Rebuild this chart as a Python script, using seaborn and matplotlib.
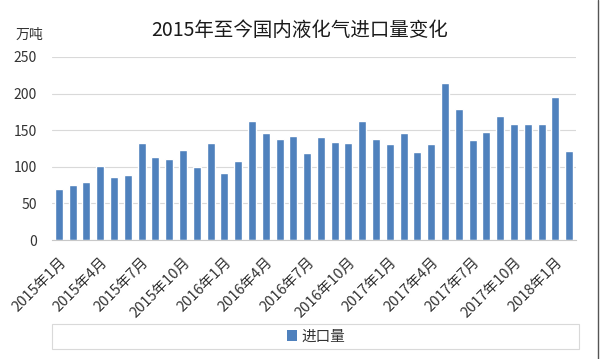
import matplotlib
matplotlib.use("Agg")
import matplotlib.pyplot as plt
from matplotlib.patches import Rectangle
from matplotlib.lines import Line2D
from matplotlib.transforms import ScaledTranslation
import seaborn as sns
import pandas as pd
import numpy as np

months = [
    "2015年1月", "2015年2月", "2015年3月", "2015年4月", "2015年5月", "2015年6月",
    "2015年7月", "2015年8月", "2015年9月", "2015年10月", "2015年11月", "2015年12月",
    "2016年1月", "2016年2月", "2016年3月", "2016年4月", "2016年5月", "2016年6月",
    "2016年7月", "2016年8月", "2016年9月", "2016年10月", "2016年11月", "2016年12月",
    "2017年1月", "2017年2月", "2017年3月", "2017年4月", "2017年5月", "2017年6月",
    "2017年7月", "2017年8月", "2017年9月", "2017年10月", "2017年11月", "2017年12月",
    "2018年1月", "2018年2月",
]
imports = [
    69, 74.5, 79, 101, 85.5, 89, 133, 113, 110.5, 123, 99.5, 132,
    92, 108, 163, 145.5, 138, 142, 119.5, 140.5, 134.5, 132.5, 162, 138,
    130.5, 145.5, 120.5, 130.5, 215, 179, 137, 147, 170, 159, 158, 159,
    196, 121.5,
]
series_name = "进口量"
title = "2015年至今国内液化气进口量变化"
unit = "万吨"
yticks = [0, 50, 100, 150, 200, 250]

sns.set_theme(style="white")
plt.rcParams["font.family"] = ["Noto Sans CJK SC", "DejaVu Sans"]

bar_color = "#4f81bd"
text_color = "#333333"

df = pd.DataFrame({"month": months, "value": imports})

fig = plt.figure(figsize=(6.0, 3.59), dpi=100)
ax = fig.add_axes([52 / 600, 1 - 240 / 359, 524 / 600, 183 / 359])

sns.barplot(data=df, x="month", y="value", color=bar_color, width=0.58,
            saturation=1, ax=ax, order=months)

ax.set_xlim(-0.5, len(months) - 0.5)
ax.set_ylim(0, 250)
ax.set_yticks(yticks)
ax.set_yticklabels([str(v) for v in yticks], fontsize=10, color=text_color)
ax.yaxis.grid(True, color="#d9d9d9", linewidth=0.8)
ax.set_axisbelow(True)
ax.tick_params(axis="y", length=0, pad=11)

ax.set_xticks(range(0, len(months), 3))
ax.set_xticklabels(months[::3], rotation=45, ha="right", rotation_mode="anchor",
                   fontsize=10.5, color=text_color)
shift = ScaledTranslation(4 / 100, 0, fig.dpi_scale_trans)
for lab in ax.get_xticklabels():
    lab.set_transform(lab.get_transform() + shift)
ax.set_xticks(np.arange(-0.5, len(months), 3), minor=True)
ax.tick_params(axis="x", which="major", length=0, pad=11)
ax.tick_params(axis="x", which="minor", length=4, color="#c8c8c8", width=0.8)

for s in ["top", "right", "left"]:
    ax.spines[s].set_visible(False)
ax.spines["bottom"].set_color("#c8c8c8")
ax.spines["bottom"].set_linewidth(0.8)
ax.set_xlabel("")
ax.set_ylabel("")

fig.text(0.5, 1 - 30 / 359, title, ha="center", va="center", fontsize=14, color="#1a1a1a")
fig.text(16 / 600, 1 - 35 / 359, unit, ha="left", va="center", fontsize=10, color=text_color)

# legend box
fig.patches.append(Rectangle((52 / 600, 1 - 349 / 359), 527 / 600, 25 / 359,
                             transform=fig.transFigure, facecolor="white",
                             edgecolor="#d9d9d9", linewidth=0.8))
handle = Rectangle((0, 0), 1, 1, facecolor=bar_color, edgecolor="none")
fig.legend([handle], [series_name], loc="center",
           bbox_to_anchor=(316 / 600, 1 - 336.5 / 359), frameon=False,
           fontsize=10.5, handlelength=0.7, handleheight=0.7, handletextpad=0.3,
           labelcolor=text_color)

# right frame line of the picture
fig.add_artist(Line2D([597.5 / 600, 597.5 / 600], [0, 1], transform=fig.transFigure,
                      color="#555555", linewidth=1))

fig.savefig("out.png", dpi=100, facecolor="white")
